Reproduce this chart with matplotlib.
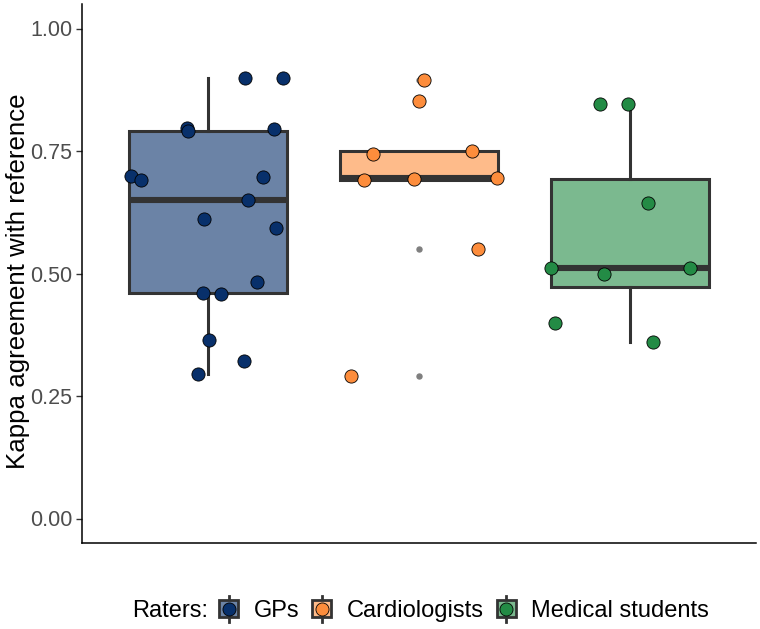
import matplotlib
matplotlib.use("Agg")
import matplotlib.pyplot as plt
from matplotlib.legend_handler import HandlerBase
from matplotlib.patches import Rectangle, Patch
from matplotlib.lines import Line2D
import numpy as np

plt.rcParams['font.family'] = ['Liberation Sans', 'DejaVu Sans']

# ---- data ----
categories = ["GPs", "Cardiologists", "Medical students"]
gps_values = [0.898, 0.898, 0.797, 0.790, 0.795, 0.699, 0.691, 0.697, 0.650,
              0.611, 0.593, 0.483, 0.461, 0.458, 0.365, 0.321, 0.294]
gps_jitter = [0.174, 0.356, -0.103, -0.095, 0.311, -0.369, -0.320, 0.261, 0.189,
              -0.019, 0.321, 0.229, -0.027, 0.061, 0.004, 0.170, -0.048]
cardio_values = [0.895, 0.853, 0.744, 0.750, 0.691, 0.693, 0.694, 0.549, 0.290]
cardio_jitter = [0.024, 0.000, -0.218, 0.252, -0.260, -0.022, 0.372, 0.279, -0.324]
med_values = [0.846, 0.846, 0.643, 0.511, 0.511, 0.498, 0.399, 0.361]
med_jitter = [-0.141, -0.008, 0.086, -0.375, 0.285, -0.120, -0.353, 0.111]
yticks = [0.00, 0.25, 0.50, 0.75, 1.00]

point_colors = ["#08306B", "#FD8D3C", "#238B45"]
box_colors = ["#6B83A6", "#FEBB8A", "#7BB98F"]
edge = "#333333"

values = [gps_values, cardio_values, med_values]
jitters = [gps_jitter, cardio_jitter, med_jitter]
positions = np.arange(1, len(categories) + 1)

fig = plt.figure(figsize=(7.6, 6.29), dpi=100)
ax = fig.add_axes([82/760, 1 - 543/629, (756-82)/760, (543-4)/629])

bp = ax.boxplot(values, positions=positions, widths=0.75, patch_artist=True,
                whis=1.5, showcaps=False,
                boxprops=dict(edgecolor=edge, linewidth=2.2),
                whiskerprops=dict(color=edge, linewidth=2.2),
                medianprops=dict(color=edge, linewidth=4.4, solid_capstyle='butt'),
                flierprops=dict(marker='o', markerfacecolor='#7f7f7f',
                                markeredgecolor='#7f7f7f', markersize=3.6),
                zorder=2)
for patch, c in zip(bp['boxes'], box_colors):
    patch.set_facecolor(c)

for pos, v, j, c in zip(positions, values, jitters, point_colors):
    ax.scatter(pos + np.array(j), v, s=90, color=c, edgecolor='black',
               linewidth=0.6, zorder=4)

ax.set_xlim(0.4, 3.6)
ax.set_ylim(-0.05, 1.05)
ax.set_xticks([])
ax.set_yticks(yticks)
ax.set_yticklabels([f"{t:.2f}" for t in yticks], fontsize=15.5, color="#4D4D4D")
ax.tick_params(axis='y', length=4, width=1.0, color='#333333', pad=3)
ax.set_ylabel("Kappa agreement with reference", fontsize=18.6, color='black')
ax.yaxis.set_label_coords((18 - 82) / 674, (543 - 281) / 539)
ax.yaxis.label.set_va('center')
for s in ['top', 'right']:
    ax.spines[s].set_visible(False)
for s in ['left', 'bottom']:
    ax.spines[s].set_linewidth(1.1)
    ax.spines[s].set_color('black')


class BoxKeyHandler(HandlerBase):
    def __init__(self, point_color):
        super().__init__()
        self.point_color = point_color

    def create_artists(self, legend, orig_handle, xdescent, ydescent, width,
                       height, fontsize, trans):
        cx = -xdescent + width / 2
        cy = -ydescent + height / 2
        line = Line2D([cx, cx], [cy - height / 2 - 3, cy + height / 2 + 3],
                      color=edge, lw=2.0, transform=trans)
        bw, bh = width, height
        rect = Rectangle((cx - bw / 2, cy - bh / 2), bw, bh,
                         facecolor=orig_handle.get_facecolor(), edgecolor=edge,
                         lw=2.0, transform=trans)
        pt = Line2D([cx], [cy], marker='o', markersize=9.4, linestyle='none',
                    markerfacecolor=self.point_color, markeredgecolor='black',
                    markeredgewidth=0.6, transform=trans)
        return [line, rect, pt]


handles = [Patch(facecolor=c) for c in box_colors]
hmap = {h: BoxKeyHandler(pc) for h, pc in zip(handles, point_colors)}
leg_fs = 17
leg = fig.legend(handles, categories, handler_map=hmap, ncol=3,
                 loc='center left', bbox_to_anchor=(219/760, 1 - 611/629),
                 frameon=False, fontsize=leg_fs, handlelength=0.81, handleheight=0.76,
                 handletextpad=0.65, columnspacing=0.55, borderpad=0, borderaxespad=0)
fig.text(208/760, 1 - 611/629, "Raters:", ha='right', va='center', fontsize=leg_fs)

fig.savefig("out.png", dpi=100)
